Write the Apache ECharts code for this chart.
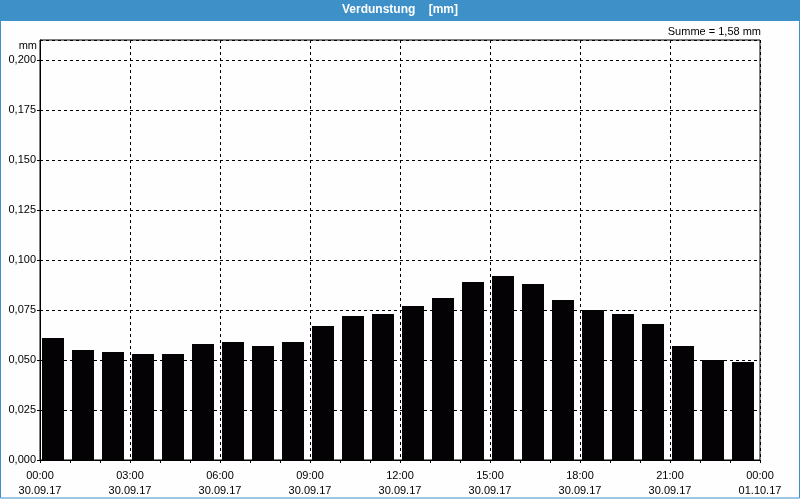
<!DOCTYPE html>
<html>
<head>
<meta charset="utf-8">
<script src="https://cdn.jsdelivr.net/npm/echarts@6/dist/echarts.min.js"></script>
<style>html,body{margin:0;padding:0;background:#fff}#c{width:800px;height:500px}</style>
</head>
<body>
<div id="c"></div>
<script>
var hours = ['00','01','02','03','04','05','06','07','08','09','10','11','12','13','14','15','16','17','18','19','20','21','22','23'];
var values = [0.061,0.055,0.054,0.053,0.053,0.058,0.059,0.057,0.059,0.067,0.072,0.073,0.077,0.081,0.089,0.092,0.088,0.080,0.075,0.073,0.068,0.057,0.050,0.049];
var tickTimes = ['00:00','03:00','06:00','09:00','12:00','15:00','18:00','21:00','00:00'];
var tickDates = ['30.09.17','30.09.17','30.09.17','30.09.17','30.09.17','30.09.17','30.09.17','30.09.17','01.10.17'];
var yTicks = [0,0.025,0.05,0.075,0.1,0.125,0.15,0.175,0.2];
var titleText = 'Verdunstung    [mm]';
var sumText = 'Summe = 1,58 mm';
var unitText = 'mm';

var FONT = 'Liberation Sans';
var chart = echarts.init(document.getElementById('c'), null, {renderer:'canvas'});
chart.setOption({
  backgroundColor: '#fdfefd',
  animation: false,
  textStyle: {fontFamily: FONT},
  graphic: [
    {type:'rect', shape:{x:0,y:0,width:800,height:21}, style:{fill:'#3d91c8'}, z:0},
    {type:'rect', shape:{x:0.5,y:0.5,width:799,height:497.5}, style:{fill:'none', stroke:'#3d91c8', lineWidth:1}, z:0}
  ],
  title: [
    {text: titleText, left:'center', top:4, padding:0, textStyle:{color:'#fff', fontWeight:'bold', fontSize:12, fontFamily:FONT}},
    {text: sumText, right:39, top:26, padding:0, textStyle:{color:'#000', fontWeight:'normal', fontSize:11, fontFamily:FONT}},
    {text: unitText, right:763, top:40, padding:0, textStyle:{color:'#000', fontWeight:'normal', fontSize:11, fontFamily:FONT}}
  ],
  grid: [
    {left:40, top:40, width:720, height:420, show:true, borderColor:'#000', borderWidth:1, backgroundColor:'transparent'},
    {left:38, top:40, width:720, height:420, show:false}
  ],
  xAxis: [
    {type:'value', gridIndex:0, min:0, max:24, interval:3,
     axisLine:{lineStyle:{color:'#000'}}, axisTick:{show:false},
     splitLine:{show:true, lineStyle:{color:'#000', type:[3,3], width:1}},
     axisLabel:{color:'#000', fontSize:11, fontFamily:FONT, margin:8, lineHeight:15,
       formatter:function(v){var i=Math.round(v/3); return tickTimes[i]+'\n'+tickDates[i];}}},
    {type:'value', gridIndex:0, min:0, max:24, interval:1, position:'bottom',
     axisLine:{show:false}, axisTick:{show:true, length:3, lineStyle:{color:'#000'}},
     splitLine:{show:false}, axisLabel:{show:false}},
    {type:'category', gridIndex:1, data:hours, boundaryGap:true, show:false}
  ],
  yAxis: [
    {type:'value', gridIndex:0, min:0, max:0.21, interval:0.025,
     axisLine:{show:true, lineStyle:{color:'#000'}}, axisTick:{show:true, length:3, lineStyle:{color:'#000'}},
     splitLine:{show:true, lineStyle:{color:'#000', type:[3,3], width:1}},
     axisLabel:{color:'#000', fontSize:11, fontFamily:FONT, margin:4, showMaxLabel:false,
       formatter:function(v){
         for (var k=0;k<yTicks.length;k++){ if (Math.abs(yTicks[k]-v)<1e-9) return yTicks[k].toFixed(3).replace('.',','); }
         return '';
       }}},
    {type:'value', gridIndex:1, min:0, max:0.21, show:false, splitLine:{show:false}}
  ],
  series: [
    {type:'bar', xAxisIndex:2, yAxisIndex:1, data:values, barWidth:22,
     itemStyle:{color:'#040204'}, z:1}
  ]
});
</script>
</body>
</html>
